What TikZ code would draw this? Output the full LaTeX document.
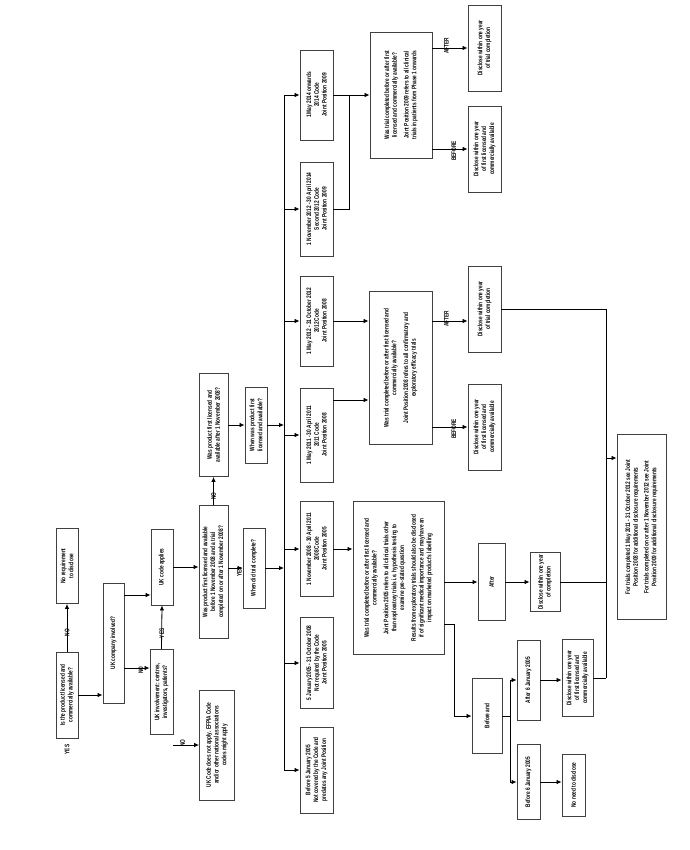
\documentclass[tikz,border=0pt]{standalone}
\usepackage{fontspec}
\setmainfont{Liberation Sans}[FakeStretch=0.72]
\usetikzlibrary{
  arrows.meta, % arrow heads
  positioning,
}
\newcommand{\boxfont}{\fontsize{6.6}{7.8}\selectfont\bfseries}

\begin{document}
\begin{tikzpicture}[x=1pt, y=-1pt,
    box/.style={draw=black!75, line width=0.9pt, rotate=90, align=center,
      inner sep=1pt, font=\boxfont},
    sz/.style 2 args={minimum width=#1, minimum height=#2},
    lbl/.style={rotate=90, font=\boxfont, inner sep=1pt},
    arr/.style={-{Latex[length=5pt, width=4.5pt]}, line width=0.8pt},
    ln/.style={line width=0.8pt},
  ]
  \useasboundingbox (0,0) rectangle (689,850);

  % first questions
  \node [box, sz={86}{22}] (q1) at (67,695) {Is the product licensed and\\commercially available?};
  \node [box, sz={75}{22}] (noreq) at (67,566) {No requirement\\to disclose};
  \node [box, sz={120}{21}] (ukco) at (113.5,643) {UK company involved?};
  \node [box, sz={76}{22}] (ukcode) at (162,567) {UK code applies};
  \node [box, sz={85}{23}] (ukinv) at (161.5,692) {UK involvement: centres,\\investigators, patients?};
  \node [box, sz={110}{35}] (nocode) at (217,745) {UK Code does not apply. EFPIA Code\\and/or other national associations\\codes might apply};
  \node [box, sz={133}{29}] (q2) at (213.5,572) {Was product first licensed and available\\before 1 November 2008 and a trial\\completed on or after 1 November 2008?};
  \node [box, sz={103}{29}] (q3) at (213.5,425) {Was product first licensed and\\available after 1 November 2008?};
  \node [box, sz={76}{22}] (q4) at (256,425) {When was product first\\licensed and available?};
  \node [box, sz={80}{22}] (q5) at (254,568) {When did trial complete?};

  % periods
  \node [box, sz={90}{33}] (p1) at (316.5,95) {1 May 2014 onwards\\2014 Code\\Joint Position 2009};
  \node [box, sz={94}{33}] (p2) at (316.5,209) {1 November 2012 - 30 April 2014\\Second 2012 Code\\Joint Position 2009};
  \node [box, sz={90}{33}] (p3) at (316.5,321) {1 May 2012 - 31 October 2012\\2012 Code\\Joint Position 2008};
  \node [box, sz={94}{33}] (p4) at (316.5,435) {1 May 2011 - 30 April 2011\\2011 Code\\Joint Position 2008};
  \node [box, sz={95}{33}] (p5) at (316.5,549) {1 November 2008 - 30 April 2011\\2008 Code\\Joint Position 2005};
  \node [box, sz={91}{33}] (p6) at (316.5,663) {5 January 2005 - 31 October 2008\\Not required by the Code\\Joint Position 2005};
  \node [box, sz={86}{33}] (p7) at (316.5,770) {Before 5 January 2005\\Not covered by the Code and\\predates any Joint Position};

  % joint positions
  \node [box, sz={126}{62}] (jp09) at (401,95) {Was trial completed before or after first\\licensed and commercially available?\\[4pt]Joint Position 2009 refers to all clinical\\trials in patients from Phase 1 onwards};
  \node [box, sz={153}{63}] (jp08) at (400.5,368) {Was trial completed before or after first licensed and\\commercially available?\\[4pt]Joint Position 2008 refers to all confirmatory and\\exploratory efficacy trials};
  \node [box, sz={153}{91}] (jp05) at (398.5,578) {Was trial completed before or after first licensed and\\commercially available?\\[4pt]Joint Position 2005 refers to all clinical trials other\\than exploratory trials i.e. hypothesis testing to\\examine pre-stated question\\[4pt]Results from exploratory trials should also be disclosed\\if of significant medical importance and may have an\\impact on marketed product's labelling};

  % outcomes
  \node [box, sz={86}{33}] (d1) at (484.5,48) {Disclose within one year\\of trial completion};
  \node [box, sz={86}{33}] (d2) at (484.5,149) {Disclose within one year\\of first licensed and\\commercially available};
  \node [box, sz={86}{33}] (d3) at (484.5,309) {Disclose within one year\\of trial completion};
  \node [box, sz={86}{33}] (d4) at (484.5,427) {Disclose within one year\\of first licensed and\\commercially available};
  \node [box, sz={77}{27}] (after) at (491.5,582) {After};
  \node [box, sz={59}{30}] (dcomp) at (545,582) {Disclose within one year\\of completion};
  \node [box, sz={75}{30}] (befand) at (487,716) {Before and};
  \node [box, sz={80}{23}] (aft6) at (528.5,680) {After 6 January 2005};
  \node [box, sz={75}{23}] (bef6) at (528.5,782) {Before 6 January 2005};
  \node [box, sz={77}{31}] (d6) at (577.5,678) {Disclose within one year\\of first licensed and\\commercially available};
  \node [box, sz={62}{23}] (noneed) at (573.5,785) {No need to disclose};
  \node [box, sz={185}{49}] (final) at (641.5,527) {For trials completed 1 May 2011 - 31 October 2012 see Joint\\Position 2008 for additional disclosure requirements\\[3pt]For trials completed on or after 1 November 2012 see Joint\\Position 2009 for additional disclosure requirements};

  % junctions
  \coordinate (bustop) at (284,95);
  \coordinate (busbot) at (284,770);
  \coordinate (j09) at (349,95);
  \coordinate (k1) at (454,624);
  \coordinate (k2) at (510,716);
  \coordinate (jn1) at (606,458);
  \coordinate (jn2) at (606,678);

  % left part
  \draw [arr] (q1.east) to node[lbl, left] {NO} (noreq.west);
  \draw [arr] (q1.south |- 0,695) -- (ukco.north |- 0,695);
  \node [lbl] (yes1) at ([yshift=-11pt]q1.west) {YES};
  \draw [arr] (ukco.south |- 0,595) -- (ukcode.north |- 0,595);
  \draw [arr] (ukco.south |- 0,668) to node[lbl, below=2pt] {NO} (ukinv.north |- 0,668);
  \draw [arr] (ukinv.east) to node[lbl, left] {YES} (ukcode.west);
  \draw [arr] (ukinv.south |- nocode.north) to node[lbl, above=2pt] {NO} (nocode.north);
  \draw [arr] (ukcode.south) -- (ukcode.south -| q2.north);
  \draw [arr] (q2.east) to node[lbl, left] {NO} (q3.west);
  \draw [arr] (q2.south |- q5.north) to node[lbl, below=4pt] {YES} (q5.north);
  \draw [arr] (q3.south |- q4.north) -- (q4.north);
  \draw [arr] (q4.south) -- (q4.south -| bustop);
  \draw [arr] (q5.south) -- (q5.south -| bustop);

  % bus
  \draw [ln] (bustop) -- (busbot);
  \foreach \p in {p1,p2,p3,p4,p5,p6,p7}
    \draw [arr] (\p.north -| bustop) -- (\p.north);

  % periods to joint positions
  \draw [arr] (p1.south) -- (jp09.north);
  \draw [ln] (p2.south) -| (j09);
  \draw [arr] (p3.south) -- (p3.south -| jp08.north);
  \draw [arr] ([yshift=35pt]p4.south) -- ([yshift=35pt]p4.south -| jp08.north);
  \draw [arr] (p5.south) -- (p5.south -| jp05.north);

  % joint positions to outcomes
  \draw [arr] (jp09.south |- d1.north) to node[lbl, above=2pt] {AFTER} (d1.north);
  \draw [arr] (jp09.south |- d2.north) to node[lbl, below=2pt] {BEFORE} (d2.north);
  \draw [arr] (jp08.south |- p3) to node[lbl, above=2pt] {AFTER} (d3.north |- p3);
  \draw [arr] (jp08.south |- d4.north) to node[lbl, below=2pt] {BEFORE} (d4.north);
  \draw [arr] (jp05.south |- after.north) -- (after.north);
  \draw [arr] (after.south) -- (after.south -| dcomp.north);
  \draw [arr] (jp05.south |- k1) -- (k1) |- (befand.north);
  \draw [ln] (befand.south) -- (k2);
  \draw [arr] (k2) |- (aft6.north);
  \draw [arr] (k2) |- (bef6.north);
  \draw [arr] (aft6.south) -- (aft6.south -| d6.north);
  \draw [arr] (bef6.south) -- (bef6.south -| noneed.north);

  % to final note
  \draw [ln] (d3.south) -| (jn2);
  \draw [ln] (dcomp.south) -- (dcomp.south -| jn2);
  \draw [ln] (d6.south) -- (jn2);
  \draw [arr] (jn1) -- (jn1 -| final.north);
\end{tikzpicture}
\end{document}
